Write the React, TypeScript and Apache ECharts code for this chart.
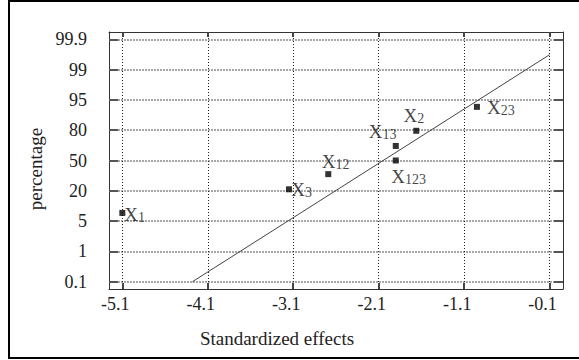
import React, { useEffect, useRef } from "react";
import * as echarts from "echarts";

// ---- data ----
const xTickValues = [-5.1, -4.1, -3.1, -2.1, -1.1, -0.1];
const yTickLabels = ["0.1", "1", "5", "20", "50", "80", "95", "99", "99.9"];
const yTickPositions = [0, 1, 2, 3, 4, 5, 6, 7, 8];

const effectNames = ["X1", "X3", "X12", "X123", "X13", "X2", "X23"];
const effectSubscripts = ["1", "3", "12", "123", "13", "2", "23"];
const effectValues = [-5.1, -3.15, -2.69, -1.9, -1.9, -1.66, -0.95];
// position on the (evenly spaced) normal-probability axis
const effectProbPos = [2.27, 3.05, 3.55, 4.0, 4.48, 4.98, 5.77];

const fitLineX = [-4.28, -0.1];
const fitLineY = [0, 7.49];

// ---- styling ----
const FONT = "'Liberation Serif', 'Times New Roman', serif";
// label offsets (dx, dy) of the "X" glyph relative to marker centre
const labelOffsets: Record<string, [number, number]> = {
  X1: [2, 1.5],
  X3: [2.4, 0.7],
  X12: [-6.6, -13],
  X123: [-4.6, 16.4],
  X13: [-27, -14],
  X2: [-12.7, -15.7],
  X23: [10, 0.7],
};

export default function App() {
  const ref = useRef<HTMLDivElement>(null);

  useEffect(() => {
    if (!ref.current) return;
    const chart = echarts.init(ref.current, null, { renderer: "svg" });

    const xMin = -5.256;
    const xMax = 0.057;
    const yMin = -0.24;
    const yMax = 8.24;

    const option: any = {
      animation: false,
      grid: { left: 109, top: 32, right: 16, bottom: 71 },
      xAxis: [
        {
          type: "value",
          position: "bottom",
          min: xMin,
          max: xMax,
          axisLine: { show: true, onZero: false, lineStyle: { color: "#333", width: 1 } },
          axisTick: {
            show: true,
            inside: true,
            length: 6,
            customValues: xTickValues,
            lineStyle: { color: "#444", width: 2 },
          },
          axisLabel: {
            customValues: xTickValues,
            formatter: (v: number) => v.toFixed(1),
            fontSize: 18,
            fontFamily: FONT,
            color: "#222",
            margin: 6,
            padding: [0, 14, 0, 0],
          },
          splitLine: {
            show: true,
            lineStyle: { color: "#222", width: 1, type: [1, 2] },
          },
          name: "Standardized effects",
          nameLocation: "middle",
          nameGap: 40,
          nameTextStyle: {
            fontSize: 19,
            fontFamily: FONT,
            color: "#222",
            padding: [0, 118, 0, 0],
          },
        },
        {
          type: "value",
          position: "top",
          min: xMin,
          max: xMax,
          axisLine: { show: true, onZero: false, lineStyle: { color: "#333", width: 1 } },
          axisTick: {
            show: true,
            inside: true,
            length: 5,
            customValues: xTickValues,
            lineStyle: { color: "#444", width: 2 },
          },
          axisLabel: { show: false },
          splitLine: { show: false },
        },
      ],
      yAxis: [
        {
          type: "value",
          position: "left",
          min: yMin,
          max: yMax,
          axisLine: { show: true, onZero: false, lineStyle: { color: "#333", width: 1 } },
          axisTick: {
            show: true,
            inside: true,
            length: 9,
            customValues: yTickPositions,
            lineStyle: { color: "#555", width: 2 },
          },
          axisLabel: {
            customValues: yTickPositions,
            formatter: (v: number) => yTickLabels[Math.round(v)] ?? "",
            fontSize: 18,
            fontFamily: FONT,
            color: "#222",
            margin: 22,
          },
          splitLine: {
            show: true,
            lineStyle: { color: "#a8a8a8", width: 2, type: [2, 1] },
          },
          name: "percentage",
          nameLocation: "middle",
          nameGap: 50,
          nameTextStyle: {
            fontSize: 19,
            fontFamily: FONT,
            color: "#222",
            padding: [0, 17, 0, 0],
          },
        },
        {
          type: "value",
          position: "right",
          min: yMin,
          max: yMax,
          axisLine: { show: true, onZero: false, lineStyle: { color: "#333", width: 1 } },
          axisTick: {
            show: true,
            inside: true,
            length: 9,
            customValues: yTickPositions,
            lineStyle: { color: "#555", width: 2 },
          },
          axisLabel: { show: false },
          splitLine: { show: false },
        },
      ],
      series: [
        {
          type: "line",
          xAxisIndex: 0,
          yAxisIndex: 0,
          data: fitLineX.map((x, i) => [x, fitLineY[i]]),
          symbol: "none",
          silent: true,
          lineStyle: { color: "#444", width: 1 },
          z: 3,
        },
        {
          type: "scatter",
          xAxisIndex: 0,
          yAxisIndex: 0,
          symbol: "rect",
          symbolSize: 6,
          itemStyle: { color: "#000" },
          z: 4,
          data: effectNames.map((n, i) => {
            const [dx, dy] = labelOffsets[n] || [4, 0];
            return {
              name: n,
              value: [effectValues[i], effectProbPos[i]],
              label: {
                show: true,
                position: [dx + 3, dy + 3],
                align: "left",
                verticalAlign: "middle",
                formatter: "{x|X}{s|" + effectSubscripts[i] + "}",
                rich: {
                  x: { fontSize: 19, lineHeight: 20, fontFamily: FONT, color: "#111" },
                  s: {
                    fontSize: 14,
                    lineHeight: 10,
                    verticalAlign: "bottom",
                    fontFamily: FONT,
                    color: "#111",
                  },
                },
              },
            };
          }),
        },
      ],
    };

    chart.setOption(option);
    return () => chart.dispose();
  }, []);

  return (
    <div
      style={{
        position: "fixed",
        left: 0,
        top: 0,
        width: 579,
        height: 360,
        background: "#fff",
        overflow: "hidden",
      }}
    >
      <div ref={ref} style={{ position: "absolute", left: 0, top: 0, width: 579, height: 360 }} />
      <div
        style={{
          position: "absolute",
          left: 8,
          top: 0,
          width: 575,
          height: 359,
          border: "2px solid #000",
          boxSizing: "border-box",
          pointerEvents: "none",
        }}
      />
    </div>
  );
}
